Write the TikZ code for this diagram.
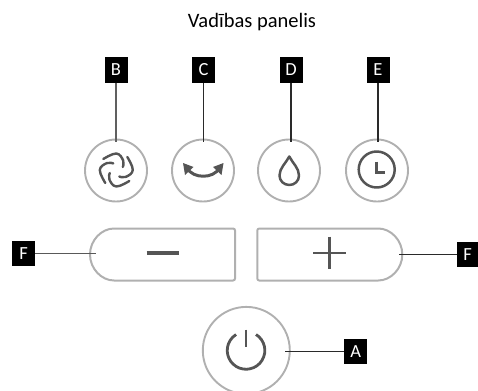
\documentclass[tikz,border=0pt]{standalone}
\usepackage{fontspec}
\setmainfont{Carlito}
\usetikzlibrary{shapes.misc,arrows.meta}
\definecolor{rimgray}{HTML}{B0B0B0}
\definecolor{icongray}{HTML}{555555}
\definecolor{leadgray}{HTML}{2A2A2A}
\tikzset{
  tag/.style={fill=black,text=white,font=\fontsize{18.5}{18.5}\selectfont,minimum width=23pt,minimum height=25.5pt,inner sep=0pt},
  roundbtn/.style={circle,draw=rimgray,line width=1.9pt,minimum size=62pt,inner sep=0pt},
  bigbtn/.style={circle,draw=rimgray,line width=1.9pt,minimum size=87pt,inner sep=0pt},
  pill/.style={rounded rectangle,draw=rimgray,line width=2pt,minimum width=145pt,minimum height=52pt,inner sep=0pt},
  lead/.style={draw=leadgray,line width=1.2pt},
  icon/.style={draw=icongray,line width=2.5pt,line cap=round,line join=round}
}
\begin{document}
\begin{tikzpicture}[x=1pt,y=-1pt]
\useasboundingbox (0,0) rectangle (478,390);
\clip (0,0) rectangle (478,390);
\node[font=\fontsize{20.5}{20.5}\selectfont,anchor=base] (title) at (252,28) {Vadības panelis};
% buttons
\node[roundbtn] (btnB) at (116,170.5) {};
\node[roundbtn] (btnC) at (203,170.5) {};
\node[roundbtn] (btnD) at (289,170.5) {};
\node[roundbtn] (btnE) at (377,170.5) {};
\node[bigbtn] (btnA) at (246.3,350.4) {};
\node[pill,rounded rectangle east arc=none,rounded corners=2pt] (minus) at (162.5,254.5) {};
\node[pill,rounded rectangle west arc=none,rounded corners=2pt] (plus) at (329.8,254.5) {};
% tags
\node[tag] (tagB) at (116,70) {B};
\node[tag] (tagC) at (203.5,70) {C};
\node[tag] (tagD) at (291,70) {D};
\node[tag] (tagE) at (378,70) {E};
\node[tag] (tagFl) at (23.5,253.7) {F};
\node[tag,minimum width=21pt] (tagFr) at (467.5,254.5) {F};
\node[tag] (tagA) at (355.7,351.7) {A};
% free ends of leaders
\coordinate (endB) at (116,142);
\coordinate (endC) at (203.5,142);
\coordinate (endD) at (291,142);
\coordinate (endE) at (378,142);
\coordinate (endFl) at (96,253.7);
\coordinate (endFr) at (398.7,254.5);
\coordinate (endA) at (285.3,351.7);
\draw[lead,draw=gray!75!black,line width=1.5pt] (tagB.south) -- (endB);
\draw[lead] (tagC.south) -- (endC);
\draw[lead] (tagD.south) -- (endD);
\draw[lead] (tagE.south) -- (endE);
\draw[lead,draw=gray!70!black] (tagFl.east) -- (endFl);
\draw[lead] (tagFr.west) -- (endFr);
\draw[lead] (tagA.west) -- (endA);
% swirl
\foreach \a in {0,90,180,270}{
  \begin{scope}[shift={(116.3,170)},rotate=\a]
    \draw[icon,line width=2.4pt] plot[smooth,tension=0.7] coordinates {(-6.5,3) (-6.9,9.5) (0,16.5) (13,11)};
  \end{scope}
}
% double arrow curve
\draw[icon,line width=3pt] (187,168) .. controls (193,179) and (213.5,179) .. (219.5,168);
\fill[icongray] (183,163) -- (193.5,167) -- (185,175) -- cycle;
\fill[icongray] (223.5,163) -- (213,167) -- (221.5,175) -- cycle;
% drop
\draw[icon] (289.3,156.5) .. controls (286,163) and (279.5,168) .. (279.5,175.5) .. controls (279.5,181) and (284,185) .. (289.3,185) .. controls (294.6,185) and (299,181) .. (299,175.5) .. controls (299,168) and (292.5,163) .. (289.3,156.5) -- cycle;
% clock
\draw[icon] (376.7,169.5) circle[radius=18];
\draw[icon,line width=3pt,line cap=butt,line join=miter] (376.7,161.5) -- (376.7,172.5) -- (385,172.5);
% minus, plus
\draw[icon,line width=3.4pt,line cap=butt] (146.7,253) -- (179,253);
\draw[icon,line width=2.8pt,line cap=butt] (313,253) -- (345.7,253);
\draw[icon,line width=2.8pt,line cap=butt] (329.7,236.7) -- (329.7,269.3);
% power
\draw[icon,line width=2.8pt,line cap=butt] (246,329.5) -- (246,347);
\draw[icon,line width=2.8pt,line cap=butt] (256,334.5) arc[start angle=-58,end angle=238,radius=18.8];
\end{tikzpicture}
\end{document}
